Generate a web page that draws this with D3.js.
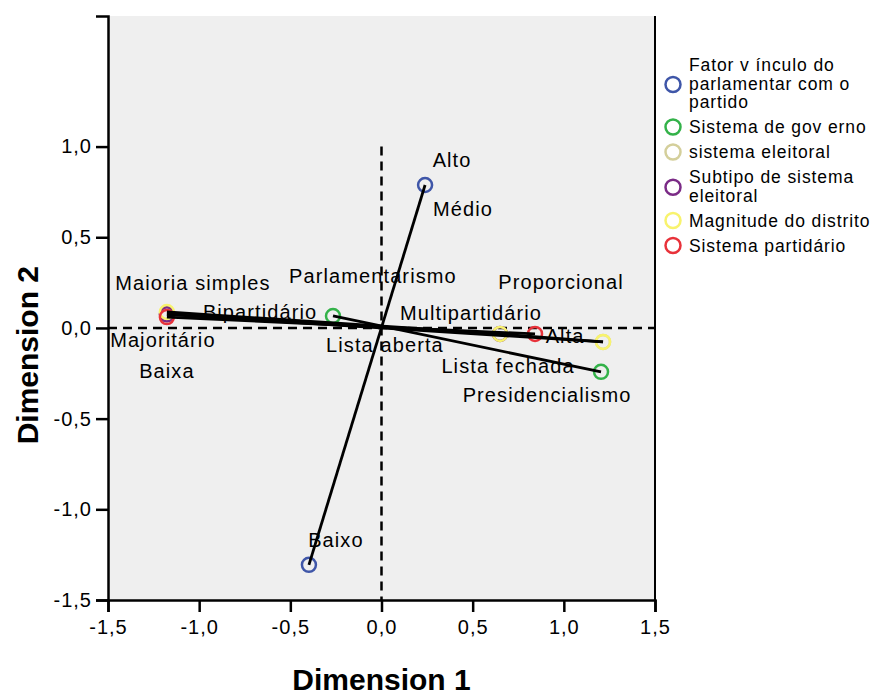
<!DOCTYPE html>
<html>
<head>
<meta charset="utf-8">
<script src="https://cdn.jsdelivr.net/npm/d3@7"></script>
<style>
	body { margin: 0; background: #fff; }
	text { font-family: "Liberation Sans", Arial, sans-serif; }
</style>
</head>
<body>
<div id="graphicContainer"></div>
<script>

// variables (legend order) and their colours
var variables = ["Fator vínculo do parlamentar com o partido", "Sistema de governo", "sistema eleitoral", "Subtipo de sistema eleitoral", "Magnitude do distrito", "Sistema partidário"]
var legendLines = [["Fator v ínculo do", "parlamentar com o", "partido"], ["Sistema de gov erno"], ["sistema eleitoral"], ["Subtipo de sistema", "eleitoral"], ["Magnitude do distrito"], ["Sistema partidário"]]
var colors = ["#3f56a8", "#33b249", "#d4cf9b", "#7b2b86", "#f8f36e", "#e8323a"]

// category points per variable (dimension 1, dimension 2)
var vinculoPts = [[0.239, 0.788], [-0.398, -1.306]]
var governoPts = [[-0.266, 0.066], [1.204, -0.242]]
var eleitoralPts = [[-1.177, 0.075], [1.215, -0.077]]
var subtipoPts = [[-1.177, 0.075], [0.65, -0.033]]
var magnitudePts = [[-1.177, 0.088], [0.65, -0.033], [1.215, -0.077]]
var partidarioPts = [[-1.177, 0.06], [0.842, -0.033]]
var allPts = [vinculoPts, governoPts, eleitoralPts, subtipoPts, magnitudePts, partidarioPts]

// category labels as placed on the plot
var labelText = ["Alto", "Médio", "Baixo", "Maioria simples", "Parlamentarismo", "Bipartidário", "Majoritário", "Baixa", "Lista aberta", "Multipartidário", "Proporcional", "Alta", "Lista fechada", "Presidencialismo"]
var labelX = [0.387, 0.447, -0.250, -1.034, -0.047, -0.666, -1.199, -1.177, 0.019, 0.491, 0.985, 1.007, 0.694, 0.908]
var labelY = [0.926, 0.656, -1.168, 0.248, 0.287, 0.088, -0.066, -0.237, -0.094, 0.083, 0.253, -0.044, -0.209, -0.369]

var ticks = [-1.5, -1.0, -0.5, 0.0, 0.5, 1.0, 1.5]
var yTicks = [-1.5, -1.0, -0.5, 0.0, 0.5, 1.0]

function init() {

	var width = 880
	var height = 696
	var margin = {top: 16, right: 225, bottom: 96, left: 108}

	var svg = d3.select("#graphicContainer").append("svg")
				.attr("width", width)
				.attr("height", height)

	var x = d3.scaleLinear().domain([-1.5, 1.5]).range([margin.left, width - margin.right])
	var y = d3.scaleLinear().domain([-1.5, 1.72]).range([height - margin.bottom, margin.top])

	var fmt = function(d) { return d3.format(".1f")(d).replace(".", ",").replace("−", "-") }

	// plot background
	svg.append("rect")
		.attr("x", x(-1.5))
		.attr("y", y(1.72))
		.attr("width", x(1.5) - x(-1.5))
		.attr("height", y(-1.5) - y(1.72))
		.attr("fill", "#efefef")

	// right border
	svg.append("line")
		.attr("x1", x(1.5)).attr("x2", x(1.5))
		.attr("y1", y(1.72)).attr("y2", y(-1.5))
		.attr("stroke", "#000").attr("stroke-width", 2)

	// reference lines
	svg.append("line")
		.attr("x1", x(-1.5)).attr("x2", x(1.5))
		.attr("y1", y(0)).attr("y2", y(0))
		.attr("stroke", "#000").attr("stroke-width", 2.5).attr("stroke-dasharray", "9,6")

	svg.append("line")
		.attr("x1", x(0)).attr("x2", x(0))
		.attr("y1", y(1.0)).attr("y2", y(-1.5))
		.attr("stroke", "#000").attr("stroke-width", 2.5).attr("stroke-dasharray", "9,6")

	// axes
	svg.append("g")
		.attr("transform", "translate(0," + y(-1.5) + ")")
		.call(d3.axisBottom(x).tickValues(ticks).tickFormat(fmt).tickSize(12).tickPadding(8))
	svg.append("g")
		.attr("transform", "translate(" + x(-1.5) + ",0)")
		.call(d3.axisLeft(y).tickValues(yTicks).tickFormat(fmt).tickSize(12).tickPadding(4))

	svg.selectAll(".domain").attr("stroke", "#000").attr("stroke-width", 2.5)
	svg.selectAll(".tick line").attr("stroke", "#000").attr("stroke-width", 2.5)
	svg.selectAll(".tick text")
		.attr("fill", "#000")
		.style("font-size", "20px")
		.style("letter-spacing", "1px")
		.style("font-family", "'Liberation Sans', Arial, sans-serif")

	// category points
	var pts = svg.append("g")
	allPts.forEach(function(set, i) {
		pts.selectAll(null)
			.data(set)
			.enter()
			.append("circle")
			.attr("cx", d => x(d[0]))
			.attr("cy", d => y(d[1]))
			.attr("r", 7)
			.attr("fill", "none")
			.attr("stroke", colors[i])
			.attr("stroke-width", 2.5)
	})

	// connecting lines
	var line = d3.line().x(d => x(d[0])).y(d => y(d[1]))
	allPts.forEach(function(set) {
		svg.append("path")
			.attr("d", line(set))
			.attr("fill", "none")
			.attr("stroke", "#000")
			.attr("stroke-width", 2.8)
	})

	// category labels
	svg.append("g")
		.selectAll("text")
		.data(labelText)
		.enter()
		.append("text")
		.attr("x", (d, i) => x(labelX[i]))
		.attr("y", (d, i) => y(labelY[i]))
		.attr("dy", "0.35em")
		.attr("text-anchor", "middle")
		.style("font-size", "20px")
		.style("letter-spacing", "1.1px")
		.text(d => d)

	// axis titles
	svg.append("text")
		.attr("x", x(0))
		.attr("y", 690)
		.attr("text-anchor", "middle")
		.style("font-size", "30px")
		.style("font-weight", "bold")
		.text("Dimension 1")

	svg.append("text")
		.attr("transform", "translate(38," + y(-0.15) + ") rotate(-90)")
		.attr("text-anchor", "middle")
		.style("font-size", "30px")
		.style("font-weight", "bold")
		.text("Dimension 2")

	// legend
	var legend = svg.append("g")
	var ly = 65
	var lh = 18.5
	legendLines.forEach(function(lines, i) {
		var n = lines.length
		var cy = ly + (n - 1) * lh / 2 + (n > 1 ? 1 : 0)
		legend.append("circle")
			.attr("cx", 673)
			.attr("cy", cy)
			.attr("r", 7.5)
			.attr("fill", "none")
			.attr("stroke", colors[i])
			.attr("stroke-width", 2.5)
		lines.forEach(function(t, j) {
			legend.append("text")
				.attr("x", 689)
				.attr("y", ly + j * lh)
				.attr("dy", "0.35em")
				.style("font-size", "17.5px")
				.style("letter-spacing", "0.9px")
				.text(t)
		})
		ly += n * lh + 6.5
	})

}

init()

</script>
</body>
</html>
